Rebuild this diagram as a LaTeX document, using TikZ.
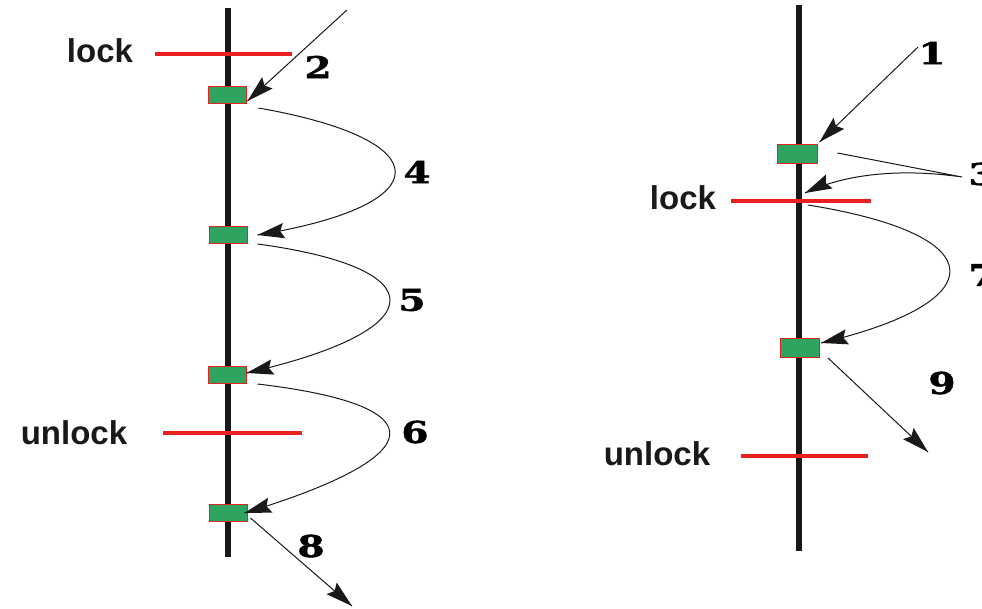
\documentclass[tikz,border=0pt]{standalone}
\usepackage{fontspec}
\setmainfont{Liberation Sans}
\newfontfamily\digitfont[FakeStretch=1.3,FakeBold=1.5]{DejaVu Serif}
\usetikzlibrary{calc}
\definecolor{boxgreen}{RGB}{46,164,96}
\definecolor{lockred}{RGB}{232,32,32}
% filled solid head: #1 = direction point (behind), #2 = tip
\newcommand{\myhead}[2]{%
  \fill[black!90] (#2) -- ($(#2)!28pt!16:(#1)$) -- ($(#2)!23pt!(#1)$) -- ($(#2)!28pt!-16:(#1)$) -- cycle;}
\begin{document}
\begin{tikzpicture}[x=1pt,y=-1pt,
  axis/.style={line width=6pt, black!90},
  lockline/.style={line width=4pt, lockred},
  lockbox/.style={draw=lockred, fill=boxgreen, line width=1pt, minimum width=38pt, minimum height=17pt, inner sep=0pt},
  locktext/.style={font=\fontsize{33}{36}\selectfont\bfseries, text=black!90, inner sep=0pt},
  num/.style={font=\digitfont\bfseries\fontsize{30}{32}\selectfont, inner sep=0pt},
  flow/.style={line width=1pt, black!90},
]
\useasboundingbox (0,0) rectangle (982,608);
\clip (0,0) rectangle (982,608);
% ---------- left diagram ----------
\coordinate (LAtop) at (228,8);
\coordinate (LAbot) at (228,557);
\draw[axis] (LAtop) -- (LAbot);
\coordinate (LLa) at (155,54); \coordinate (LLb) at (292,54);
\draw[lockline] (LLa) -- (LLb);
\coordinate (LUa) at (163,433); \coordinate (LUb) at (302,433);
\draw[lockline] (LUa) -- (LUb);
\node[locktext] (Llock) at (100,51) {lock};
\node[locktext] (Lunlock) at (74,433) {unlock};
\node[lockbox] (L1) at (227,95) {};
\node[lockbox] (L2) at (228,235) {};
\node[lockbox] (L3) at (227,375) {};
\node[lockbox] (L4) at (228,513) {};
% arrow 2
\coordinate (s2) at (347,10);
\coordinate (t2) at ($(L1.south east)+(1,-3)$);
\draw[flow] (s2) -- (t2); \myhead{s2}{t2}
% curve 4
\coordinate (a4) at ($(L1.south east)+(12,4)$);
\coordinate (t4) at ($(L2.east)+(10,0)$);
\coordinate (k4) at (441,205);
\draw[flow] (a4) .. controls (441,140) and (k4) .. (t4); \myhead{k4}{t4}
% curve 5
\coordinate (a5) at ($(L2.south east)+(10,0)$);
\coordinate (t5) at ($(L3.east)+(0,-2)$);
\coordinate (k5) at (436,330);
\draw[flow] (a5) .. controls (436,268) and (k5) .. (t5); \myhead{k5}{t5}
% curve 6
\coordinate (a6) at ($(L3.south east)+(11,0)$);
\coordinate (t6) at ($(L4.east)+(-3,0)$);
\coordinate (k6) at (436,455);
\draw[flow] (a6) .. controls (436,405) and (k6) .. (t6); \myhead{k6}{t6}
% arrow 8
\coordinate (a8) at ($(L4.south east)+(3,-4)$);
\coordinate (e8) at (352,606);
\draw[flow] (a8) -- (e8); \myhead{a8}{e8}
\node[num] (n2) at (318,67) {2};
\node[num] (n4) at (417,172) {4};
\node[num] (n5) at (412,300) {5};
\node[num] (n6) at (415,432) {6};
\node[num] (n8) at (311,546) {8};
% ---------- right diagram ----------
\coordinate (RAtop) at (799,5);
\coordinate (RAbot) at (799,551);
\draw[axis] (RAtop) -- (RAbot);
\coordinate (RLa) at (731,201); \coordinate (RLb) at (871,201);
\draw[lockline] (RLa) -- (RLb);
\coordinate (RUa) at (741,456); \coordinate (RUb) at (868,456);
\draw[lockline] (RUa) -- (RUb);
\node[locktext] (Rlock) at (683,198) {lock};
\node[locktext] (Runlock) at (657,454) {unlock};
\node[lockbox, minimum height=19pt, minimum width=40pt] (R1) at (797,154) {};
\node[lockbox, minimum height=19pt, minimum width=39pt] (R2) at (800,348) {};
% arrow 1
\coordinate (s1) at (918,47);
\coordinate (t1) at ($(R1.north east)+(2,-2)$);
\draw[flow] (s1) -- (t1); \myhead{s1}{t1}
% arrow 3
\coordinate (a3) at ($(R1.east)+(20,-1)$);
\coordinate (c3) at (962,177);
\coordinate (k3) at (845,174);
\coordinate (t3) at (805,193);
\draw[flow] (a3) -- (c3) .. controls (900,168) and (k3) .. (t3); \myhead{k3}{t3}
% curve 7
\coordinate (s7) at (808,205);
\coordinate (k7) at (995,302);
\coordinate (t7) at ($(R2.east)+(1,-5)$);
\draw[flow] (s7) .. controls (995,235) and (k7) .. (t7); \myhead{k7}{t7}
% arrow 9
\coordinate (a9) at ($(R2.south east)+(8,0)$);
\coordinate (e9) at (928,452);
\draw[flow] (a9) -- (e9); \myhead{a9}{e9}
\node[num] (n1) at (932,53) {1};
\node[num] (n3) at (982,174) {3};
\node[num] (n7) at (982,275) {7};
\node[num] (n9) at (942,383) {9};
\end{tikzpicture}
\end{document}
